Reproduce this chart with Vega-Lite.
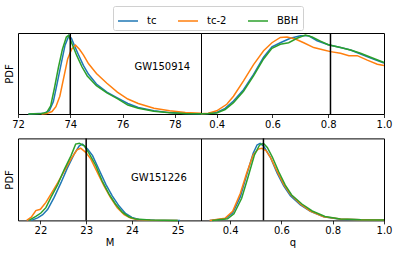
{
  "$schema": "https://vega.github.io/schema/vega-lite/v6.json",
  "background": "white",
  "padding": {"left": 3, "top": 5, "right": 2, "bottom": 2},
  "config": {
    "font": "DejaVu Sans",
    "view": {"stroke": "black", "strokeWidth": 1},
    "axis": {
      "grid": false, "domain": false, "labelFontSize": 10, "labelColor": "black",
      "labelFont": "DejaVu Sans", "titleFont": "DejaVu Sans", "titleFontSize": 10,
      "titleFontWeight": "normal", "titleColor": "black", "tickColor": "black",
      "tickSize": 3.5, "tickWidth": 0.8, "labelPadding": 2, "titlePadding": 2,
      "labelFlush": false, "labelOverlap": false, "labelBound": false
    },
    "axisY": {"ticks": false, "labels": false, "titlePadding": 4},
    "legend": {
      "orient": "none", "legendX": 95, "legendY": -27, "direction": "horizontal",
      "symbolType": "stroke", "symbolSize": 400, "symbolStrokeWidth": 1.5,
      "labelFontSize": 10, "labelFont": "DejaVu Sans", "labelColor": "black",
      "padding": 4, "strokeColor": "#d0d0d0", "fillColor": "white", "cornerRadius": 2,
      "columnPadding": 18, "labelOffset": 8
    }
  },
  "datasets": {
    "tl": [
      {"s":"tc","x":72.4,"y":0},{"s":"tc","x":73.0,"y":0.01},{"s":"tc","x":73.2,"y":0.04},{"s":"tc","x":73.35,"y":0.15},{"s":"tc","x":73.5,"y":0.38},{"s":"tc","x":73.65,"y":0.62},{"s":"tc","x":73.8,"y":0.85},{"s":"tc","x":73.95,"y":0.97},{"s":"tc","x":74.05,"y":0.93},{"s":"tc","x":74.15,"y":0.85},{"s":"tc","x":74.3,"y":0.74},{"s":"tc","x":74.5,"y":0.6},{"s":"tc","x":74.7,"y":0.49},{"s":"tc","x":75.0,"y":0.37},{"s":"tc","x":75.4,"y":0.27},{"s":"tc","x":75.8,"y":0.2},{"s":"tc","x":76.2,"y":0.13},{"s":"tc","x":76.6,"y":0.08},{"s":"tc","x":77.2,"y":0.04},{"s":"tc","x":77.8,"y":0.017},{"s":"tc","x":78.4,"y":0.006},{"s":"tc","x":79.0,"y":0.002},
      {"s":"tc-2","x":72.9,"y":0},{"s":"tc-2","x":73.1,"y":0.005},{"s":"tc-2","x":73.3,"y":0.03},{"s":"tc-2","x":73.45,"y":0.09},{"s":"tc-2","x":73.6,"y":0.22},{"s":"tc-2","x":73.75,"y":0.45},{"s":"tc-2","x":73.9,"y":0.68},{"s":"tc-2","x":74.05,"y":0.8},{"s":"tc-2","x":74.2,"y":0.85},{"s":"tc-2","x":74.35,"y":0.8},{"s":"tc-2","x":74.5,"y":0.73},{"s":"tc-2","x":74.7,"y":0.62},{"s":"tc-2","x":75.0,"y":0.5},{"s":"tc-2","x":75.4,"y":0.38},{"s":"tc-2","x":75.8,"y":0.27},{"s":"tc-2","x":76.2,"y":0.185},{"s":"tc-2","x":76.6,"y":0.13},{"s":"tc-2","x":77.2,"y":0.07},{"s":"tc-2","x":77.8,"y":0.04},{"s":"tc-2","x":78.4,"y":0.02},{"s":"tc-2","x":79.0,"y":0.01},
      {"s":"BBH","x":72.4,"y":0},{"s":"BBH","x":72.9,"y":0.005},{"s":"BBH","x":73.1,"y":0.02},{"s":"BBH","x":73.25,"y":0.1},{"s":"BBH","x":73.4,"y":0.33},{"s":"BBH","x":73.55,"y":0.58},{"s":"BBH","x":73.7,"y":0.8},{"s":"BBH","x":73.85,"y":0.95},{"s":"BBH","x":73.93,"y":0.97},{"s":"BBH","x":74.0,"y":0.92},{"s":"BBH","x":74.1,"y":0.84},{"s":"BBH","x":74.25,"y":0.72},{"s":"BBH","x":74.45,"y":0.58},{"s":"BBH","x":74.65,"y":0.47},{"s":"BBH","x":75.0,"y":0.35},{"s":"BBH","x":75.4,"y":0.26},{"s":"BBH","x":75.8,"y":0.19},{"s":"BBH","x":76.2,"y":0.11},{"s":"BBH","x":76.6,"y":0.07},{"s":"BBH","x":77.2,"y":0.035},{"s":"BBH","x":77.8,"y":0.015},{"s":"BBH","x":78.4,"y":0.005},{"s":"BBH","x":79.0,"y":0.002}
    ],
    "tr": [
      {"s":"tc","x":0.3435,"y":0.002},{"s":"tc","x":0.37,"y":0.006},{"s":"tc","x":0.4,"y":0.02},{"s":"tc","x":0.43,"y":0.07},{"s":"tc","x":0.46,"y":0.16},{"s":"tc","x":0.496,"y":0.3},{"s":"tc","x":0.532,"y":0.49},{"s":"tc","x":0.568,"y":0.7},{"s":"tc","x":0.598,"y":0.83},{"s":"tc","x":0.628,"y":0.88},{"s":"tc","x":0.664,"y":0.935},{"s":"tc","x":0.7,"y":0.965},{"s":"tc","x":0.73,"y":0.965},{"s":"tc","x":0.76,"y":0.905},{"s":"tc","x":0.8,"y":0.855},{"s":"tc","x":0.844,"y":0.82},{"s":"tc","x":0.88,"y":0.79},{"s":"tc","x":0.916,"y":0.74},{"s":"tc","x":0.952,"y":0.69},{"s":"tc","x":1.0,"y":0.63},
      {"s":"tc-2","x":0.3435,"y":0.004},{"s":"tc-2","x":0.37,"y":0.01},{"s":"tc-2","x":0.4,"y":0.04},{"s":"tc-2","x":0.436,"y":0.12},{"s":"tc-2","x":0.46,"y":0.22},{"s":"tc-2","x":0.496,"y":0.41},{"s":"tc-2","x":0.532,"y":0.61},{"s":"tc-2","x":0.568,"y":0.78},{"s":"tc-2","x":0.598,"y":0.88},{"s":"tc-2","x":0.628,"y":0.945},{"s":"tc-2","x":0.652,"y":0.95},{"s":"tc-2","x":0.682,"y":0.925},{"s":"tc-2","x":0.712,"y":0.88},{"s":"tc-2","x":0.748,"y":0.82},{"s":"tc-2","x":0.784,"y":0.79},{"s":"tc-2","x":0.808,"y":0.77},{"s":"tc-2","x":0.844,"y":0.75},{"s":"tc-2","x":0.874,"y":0.72},{"s":"tc-2","x":0.904,"y":0.72},{"s":"tc-2","x":0.94,"y":0.665},{"s":"tc-2","x":0.976,"y":0.615},{"s":"tc-2","x":1.0,"y":0.6},
      {"s":"BBH","x":0.3435,"y":0.002},{"s":"BBH","x":0.37,"y":0.005},{"s":"BBH","x":0.4,"y":0.012},{"s":"BBH","x":0.43,"y":0.055},{"s":"BBH","x":0.46,"y":0.14},{"s":"BBH","x":0.496,"y":0.28},{"s":"BBH","x":0.532,"y":0.47},{"s":"BBH","x":0.568,"y":0.68},{"s":"BBH","x":0.598,"y":0.81},{"s":"BBH","x":0.628,"y":0.86},{"s":"BBH","x":0.658,"y":0.88},{"s":"BBH","x":0.688,"y":0.935},{"s":"BBH","x":0.718,"y":0.975},{"s":"BBH","x":0.742,"y":0.95},{"s":"BBH","x":0.772,"y":0.9},{"s":"BBH","x":0.8,"y":0.855},{"s":"BBH","x":0.844,"y":0.82},{"s":"BBH","x":0.88,"y":0.79},{"s":"BBH","x":0.916,"y":0.75},{"s":"BBH","x":0.952,"y":0.7},{"s":"BBH","x":1.0,"y":0.635}
    ],
    "bl": [
      {"s":"tc","x":21.8,"y":0},{"s":"tc","x":21.94,"y":0.03},{"s":"tc","x":22.05,"y":0.07},{"s":"tc","x":22.16,"y":0.135},{"s":"tc","x":22.3,"y":0.28},{"s":"tc","x":22.45,"y":0.46},{"s":"tc","x":22.59,"y":0.64},{"s":"tc","x":22.74,"y":0.81},{"s":"tc","x":22.85,"y":0.91},{"s":"tc","x":22.92,"y":0.93},{"s":"tc","x":23.03,"y":0.87},{"s":"tc","x":23.14,"y":0.79},{"s":"tc","x":23.28,"y":0.62},{"s":"tc","x":23.43,"y":0.44},{"s":"tc","x":23.57,"y":0.3},{"s":"tc","x":23.72,"y":0.175},{"s":"tc","x":23.86,"y":0.085},{"s":"tc","x":24.0,"y":0.037},{"s":"tc","x":24.15,"y":0.012},{"s":"tc","x":24.5,"y":0.003},{"s":"tc","x":25.05,"y":0},
      {"s":"tc-2","x":21.7,"y":0},{"s":"tc-2","x":21.8,"y":0.04},{"s":"tc-2","x":21.9,"y":0.12},{"s":"tc-2","x":22.0,"y":0.135},{"s":"tc-2","x":22.12,"y":0.22},{"s":"tc-2","x":22.23,"y":0.32},{"s":"tc-2","x":22.38,"y":0.46},{"s":"tc-2","x":22.52,"y":0.6},{"s":"tc-2","x":22.67,"y":0.75},{"s":"tc-2","x":22.8,"y":0.86},{"s":"tc-2","x":22.88,"y":0.88},{"s":"tc-2","x":22.99,"y":0.83},{"s":"tc-2","x":23.1,"y":0.75},{"s":"tc-2","x":23.25,"y":0.58},{"s":"tc-2","x":23.39,"y":0.42},{"s":"tc-2","x":23.53,"y":0.28},{"s":"tc-2","x":23.68,"y":0.155},{"s":"tc-2","x":23.83,"y":0.07},{"s":"tc-2","x":23.97,"y":0.03},{"s":"tc-2","x":24.11,"y":0.01},{"s":"tc-2","x":24.4,"y":0.003},{"s":"tc-2","x":25.0,"y":0},
      {"s":"BBH","x":21.75,"y":0},{"s":"BBH","x":21.9,"y":0.05},{"s":"BBH","x":22.01,"y":0.09},{"s":"BBH","x":22.12,"y":0.155},{"s":"BBH","x":22.23,"y":0.28},{"s":"BBH","x":22.38,"y":0.44},{"s":"BBH","x":22.52,"y":0.62},{"s":"BBH","x":22.67,"y":0.79},{"s":"BBH","x":22.77,"y":0.93},{"s":"BBH","x":22.85,"y":0.94},{"s":"BBH","x":22.96,"y":0.91},{"s":"BBH","x":23.07,"y":0.81},{"s":"BBH","x":23.21,"y":0.67},{"s":"BBH","x":23.35,"y":0.48},{"s":"BBH","x":23.5,"y":0.32},{"s":"BBH","x":23.64,"y":0.2},{"s":"BBH","x":23.79,"y":0.1},{"s":"BBH","x":23.93,"y":0.045},{"s":"BBH","x":24.08,"y":0.016},{"s":"BBH","x":24.4,"y":0.004},{"s":"BBH","x":25.0,"y":0}
    ],
    "br": [
      {"s":"tc","x":0.32,"y":0},{"s":"tc","x":0.38,"y":0.02},{"s":"tc","x":0.41,"y":0.09},{"s":"tc","x":0.44,"y":0.29},{"s":"tc","x":0.465,"y":0.56},{"s":"tc","x":0.49,"y":0.82},{"s":"tc","x":0.505,"y":0.92},{"s":"tc","x":0.517,"y":0.94},{"s":"tc","x":0.53,"y":0.91},{"s":"tc","x":0.557,"y":0.77},{"s":"tc","x":0.583,"y":0.58},{"s":"tc","x":0.609,"y":0.42},{"s":"tc","x":0.635,"y":0.3},{"s":"tc","x":0.674,"y":0.19},{"s":"tc","x":0.713,"y":0.11},{"s":"tc","x":0.765,"y":0.043},{"s":"tc","x":0.83,"y":0.015},{"s":"tc","x":0.91,"y":0.007},{"s":"tc","x":1.0,"y":0.004},
      {"s":"tc-2","x":0.32,"y":0},{"s":"tc-2","x":0.38,"y":0.025},{"s":"tc-2","x":0.41,"y":0.11},{"s":"tc-2","x":0.44,"y":0.33},{"s":"tc-2","x":0.465,"y":0.58},{"s":"tc-2","x":0.49,"y":0.8},{"s":"tc-2","x":0.51,"y":0.87},{"s":"tc-2","x":0.524,"y":0.88},{"s":"tc-2","x":0.54,"y":0.85},{"s":"tc-2","x":0.557,"y":0.77},{"s":"tc-2","x":0.583,"y":0.6},{"s":"tc-2","x":0.609,"y":0.44},{"s":"tc-2","x":0.635,"y":0.32},{"s":"tc-2","x":0.674,"y":0.2},{"s":"tc-2","x":0.713,"y":0.115},{"s":"tc-2","x":0.765,"y":0.045},{"s":"tc-2","x":0.83,"y":0.017},{"s":"tc-2","x":0.91,"y":0.009},{"s":"tc-2","x":1.0,"y":0.005},
      {"s":"BBH","x":0.33,"y":0},{"s":"BBH","x":0.39,"y":0.02},{"s":"BBH","x":0.415,"y":0.08},{"s":"BBH","x":0.445,"y":0.27},{"s":"BBH","x":0.47,"y":0.53},{"s":"BBH","x":0.495,"y":0.8},{"s":"BBH","x":0.515,"y":0.92},{"s":"BBH","x":0.53,"y":0.94},{"s":"BBH","x":0.545,"y":0.89},{"s":"BBH","x":0.565,"y":0.77},{"s":"BBH","x":0.59,"y":0.59},{"s":"BBH","x":0.615,"y":0.43},{"s":"BBH","x":0.64,"y":0.31},{"s":"BBH","x":0.68,"y":0.2},{"s":"BBH","x":0.72,"y":0.115},{"s":"BBH","x":0.77,"y":0.048},{"s":"BBH","x":0.83,"y":0.018},{"s":"BBH","x":0.91,"y":0.008},{"s":"BBH","x":1.0,"y":0.004}
    ]
  },
  "resolve": {"scale": {"x": "independent", "y": "independent", "color": "shared"}},
  "bounds": "flush",
  "columns": 2,
  "spacing": {"row": 24.4, "column": 0},
  "concat": [
    {
      "width": 183, "height": 81,
      "layer": [
        {"data": {"name": "tl"}, "mark": {"type": "line", "strokeWidth": 1.5},
         "encoding": {
           "x": {"field": "x", "type": "quantitative", "scale": {"domain": [72, 79], "nice": false}, "axis": {"values": [72, 74, 76, 78], "format": "d", "title": null}},
           "y": {"field": "y", "type": "quantitative", "scale": {"domain": [0, 1], "nice": false}, "axis": {"title": "PDF"}},
           "color": {"field": "s", "type": "nominal", "scale": {"domain": ["tc", "tc-2", "BBH"], "range": ["#1f77b4", "#ff7f0e", "#2ca02c"]}, "legend": {"title": null}}
         }},
        {"data": {"values": [{"v": 74}]}, "mark": {"type": "rule", "color": "black", "strokeWidth": 1.5}, "encoding": {"x": {"field": "v", "type": "quantitative"}}},
        {"data": {"values": [{"t": "GW150914"}]}, "mark": {"type": "text", "fontSize": 10, "color": "black", "align": "center", "baseline": "middle"}, "encoding": {"x": {"datum": 77.52}, "y": {"datum": 0.58}, "text": {"field": "t"}}}
      ]
    },
    {
      "width": 183, "height": 81,
      "layer": [
        {"data": {"name": "tr"}, "mark": {"type": "line", "strokeWidth": 1.5},
         "encoding": {
           "x": {"field": "x", "type": "quantitative", "scale": {"domain": [0.3435, 1.0], "nice": false, "zero": false}, "axis": {"values": [0.4, 0.6, 0.8, 1.0], "format": ".1f", "title": null}},
           "y": {"field": "y", "type": "quantitative", "scale": {"domain": [0, 1], "nice": false}, "axis": null},
           "color": {"field": "s", "type": "nominal", "scale": {"domain": ["tc", "tc-2", "BBH"], "range": ["#1f77b4", "#ff7f0e", "#2ca02c"]}, "legend": {"title": null}}
         }},
        {"data": {"values": [{"v": 0.808}]}, "mark": {"type": "rule", "color": "black", "strokeWidth": 1.5}, "encoding": {"x": {"field": "v", "type": "quantitative"}}}
      ]
    },
    {
      "width": 183, "height": 82,
      "layer": [
        {"data": {"name": "bl"}, "mark": {"type": "line", "strokeWidth": 1.5},
         "encoding": {
           "x": {"field": "x", "type": "quantitative", "scale": {"domain": [21.51, 25.51], "nice": false, "zero": false}, "axis": {"values": [22, 23, 24, 25], "format": "d", "title": "M"}},
           "y": {"field": "y", "type": "quantitative", "scale": {"domain": [0, 1], "nice": false}, "axis": {"title": "PDF"}},
           "color": {"field": "s", "type": "nominal", "scale": {"domain": ["tc", "tc-2", "BBH"], "range": ["#1f77b4", "#ff7f0e", "#2ca02c"]}, "legend": {"title": null}}
         }},
        {"data": {"values": [{"v": 23.0}]}, "mark": {"type": "rule", "color": "black", "strokeWidth": 1.5}, "encoding": {"x": {"field": "v", "type": "quantitative"}}},
        {"data": {"values": [{"t": "GW151226"}]}, "mark": {"type": "text", "fontSize": 10, "color": "black", "align": "center", "baseline": "middle"}, "encoding": {"x": {"datum": 24.59}, "y": {"datum": 0.515}, "text": {"field": "t"}}}
      ]
    },
    {
      "width": 183, "height": 82,
      "layer": [
        {"data": {"name": "br"}, "mark": {"type": "line", "strokeWidth": 1.5},
         "encoding": {
           "x": {"field": "x", "type": "quantitative", "scale": {"domain": [0.2865, 1.0], "nice": false, "zero": false}, "axis": {"values": [0.4, 0.6, 0.8, 1.0], "format": ".1f", "title": "q"}},
           "y": {"field": "y", "type": "quantitative", "scale": {"domain": [0, 1], "nice": false}, "axis": null},
           "color": {"field": "s", "type": "nominal", "scale": {"domain": ["tc", "tc-2", "BBH"], "range": ["#1f77b4", "#ff7f0e", "#2ca02c"]}, "legend": {"title": null}}
         }},
        {"data": {"values": [{"v": 0.53}]}, "mark": {"type": "rule", "color": "black", "strokeWidth": 1.5}, "encoding": {"x": {"field": "v", "type": "quantitative"}}}
      ]
    }
  ]
}
